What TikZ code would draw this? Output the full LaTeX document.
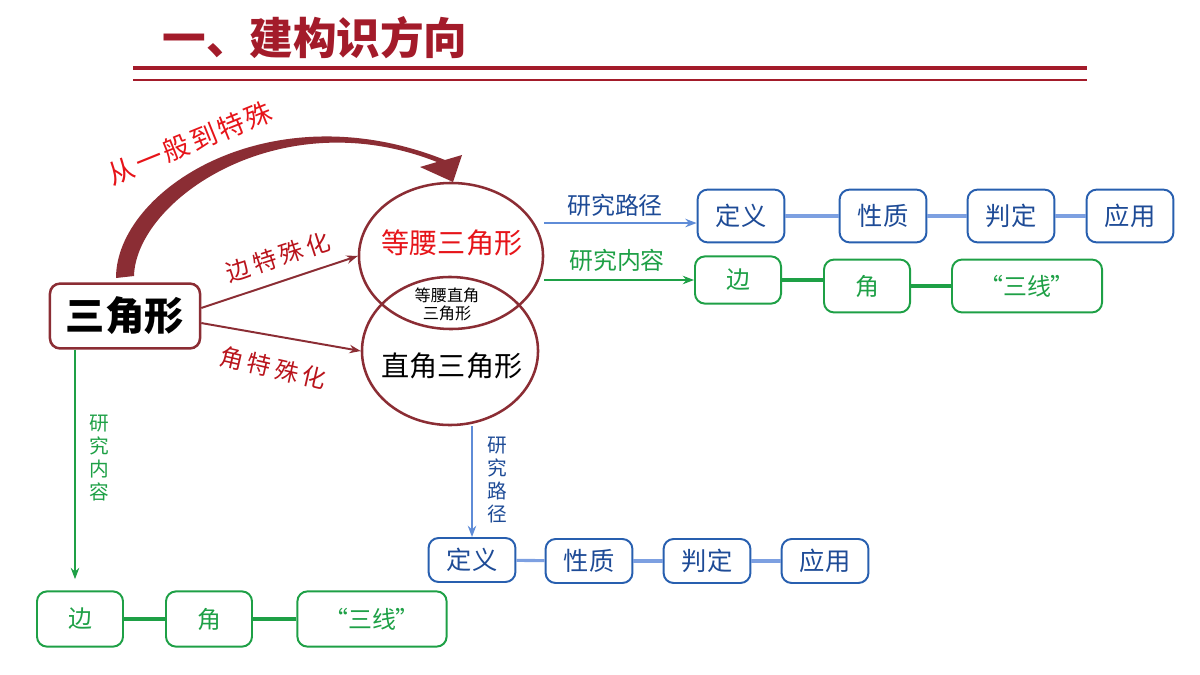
\documentclass[tikz,border=0pt]{standalone}
\usepackage{fontspec}
\setmainfont{Noto Sans CJK SC}
\usetikzlibrary{shapes.geometric,arrows.meta}
\definecolor{titlered}{RGB}{163,27,42}
\definecolor{ringred}{RGB}{139,45,52}
\definecolor{textred}{RGB}{230,20,25}
\definecolor{labelred}{RGB}{185,20,28}
\definecolor{boxblue}{RGB}{40,95,175}
\definecolor{textblue}{RGB}{30,75,150}
\definecolor{lineblue}{RGB}{125,160,225}
\definecolor{arrowblue}{RGB}{95,140,215}
\definecolor{midgreen}{RGB}{30,160,70}
\newcommand{\fsz}[1]{\fontsize{#1}{#1}\selectfont}
\newcommand{\gap}{\hspace{3pt}}
\begin{document}
\begin{tikzpicture}
[x=0.025cm,y=-0.025cm,
 bluebox/.style={draw=boxblue,line width=1.4pt,rounded corners=0.25cm,text=textblue,
   minimum width=2.17cm,minimum height=1.32cm,inner sep=0pt,font=\fsz{18}},
 greenbox/.style={draw=midgreen,line width=1.4pt,rounded corners=0.25cm,text=midgreen,
   minimum width=2.15cm,minimum height=1.32cm,inner sep=0pt,font=\fsz{17}},
 ring/.style={draw=ringred,line width=1.8pt,ellipse,inner sep=0pt},
 redarrow/.style={ringred,line width=1.4pt,-{Stealth[length=8pt,width=6pt]}},
 bluearrow/.style={arrowblue,line width=1.4pt,-{Stealth[length=8pt,width=6pt]}},
 greenarrow/.style={midgreen,line width=1.4pt,-{Stealth[length=8pt,width=6pt]}},
 bluelink/.style={lineblue,line width=2.2pt},
 greenlink/.style={midgreen,line width=2.2pt},
 vtext/.style={align=center,font=\fsz{14}\linespread{1.17}\selectfont}]
\useasboundingbox (0,0) rectangle (1200,675);

% title
\node[text=titlered,font=\fsz{31}\bfseries] (title) at (315,38) {一、建构识方向};
\draw[titlered,line width=2.2pt] (133,68) -- (1087,68);
\draw[titlered,line width=1pt] (133,80) -- (1087,80);

% left
\node[draw=ringred,line width=1.8pt,rounded corners=0.25cm,minimum width=3.75cm,
  minimum height=1.62cm,font=\fsz{28}\bfseries] (tri) at (125,316) {三角形};

% big arrow
\fill[ringred] (116,278) .. controls (116,190) and (270,90) .. (445,160)
  -- (462,155) -- (453,182) -- (420,167) -- (437,162)
  .. controls (280,100) and (136,200) .. (134,276) -- cycle;
\node[text=textred,font=\fsz{19},rotate=22] (general) at (190,143)
  {从\hspace{2pt}一\hspace{2pt}般\hspace{2pt}到\hspace{2pt}特\hspace{2pt}殊};

% rings
\node[ring,minimum width=4.6cm,minimum height=3.65cm] (iso) at (451,256) {};
\node[ring,minimum width=4.4cm,minimum height=3.7cm] (rt) at (450,351) {};
\node[text=textred,font=\fsz{20}] (isotext) at (452,243) {等腰三角形};
\node[font=\fsz{20}] (rttext) at (452,366) {直角三角形};
\node[align=center,font=\fsz{11.5}\linespread{1.1}\selectfont] (both) at (447,304) {等腰直角\\三角形};

\draw[redarrow] ([yshift=5.7pt]tri.east) -- (iso.west);
\draw[redarrow] ([yshift=-5pt]tri.east) -- (rt.west);
\node[text=labelred,font=\fsz{17},rotate=18] (sidelabel) at (278,257) {边\gap 特\gap 殊\gap 化};
\node[text=labelred,font=\fsz{17},rotate=-13] (anglelabel) at (273,368) {角\gap 特\gap 殊\gap 化};

% top right
\node[bluebox] (defA) at (741,216) {定义};
\node[bluebox] (propA) at (883,216) {性质};
\node[bluebox] (judgA) at (1011,216) {判定};
\node[bluebox] (appA) at (1130,216) {应用};
\draw[bluelink] (defA) -- (propA);
\draw[bluelink] (propA) -- (judgA);
\draw[bluelink] (judgA) -- (appA);
\coordinate (pathin) at ([yshift=-5pt]defA.west);
\draw[bluearrow] (iso.east |- pathin) -- (pathin);
\node[text=textblue,font=\fsz{17}] (pathlabel) at (615,205) {研究路径};

\node[greenbox,minimum height=1.18cm] (sideA) at (738,280) {边};
\node[greenbox] (angA) at (867,286) {角};
\node[greenbox,minimum width=3.75cm] (lineA) at (1027,286) {“三线”};
\draw[greenlink] (sideA.east) -- (sideA.east -| angA.west);
\draw[greenlink] (angA) -- (lineA);
\draw[greenarrow] (iso.east |- sideA.west) -- (sideA.west);
\node[text=midgreen,font=\fsz{17}] (contlabel) at (617,260) {研究内容};

% bottom blue
\node[bluebox,minimum height=1.1cm] (defB) at (472,560) {定义};
\node[bluebox,minimum height=1.1cm] (propB) at (589,561) {性质};
\node[bluebox,minimum height=1.1cm] (judgB) at (707,561) {判定};
\node[bluebox,minimum height=1.1cm] (appB) at (825,561) {应用};
\draw[bluelink] (defB) -- (propB);
\draw[bluelink] (propB) -- (judgB);
\draw[bluelink] (judgB) -- (appB);
\draw[bluearrow] (rt.south -| defB.north) -- (defB.north);
\node[vtext,text=textblue] (pathlabelB) at (497,480) {研\\究\\路\\径};

% bottom green
\node[greenbox,minimum height=1.38cm] (sideB) at (80,619) {边};
\node[greenbox,minimum height=1.38cm] (angB) at (209,619) {角};
\node[greenbox,minimum height=1.38cm,minimum width=3.73cm] (lineB) at (372,619) {“三线”};
\draw[greenlink] (sideB) -- (angB);
\draw[greenlink] (angB) -- (lineB);
\coordinate (contin) at ([yshift=8pt]sideB.north -| 75,0);
\draw[greenarrow] (tri.south -| contin) -- (contin);
\node[vtext,text=midgreen] (contlabelB) at (99,458) {研\\究\\内\\容};
\end{tikzpicture}
\end{document}
